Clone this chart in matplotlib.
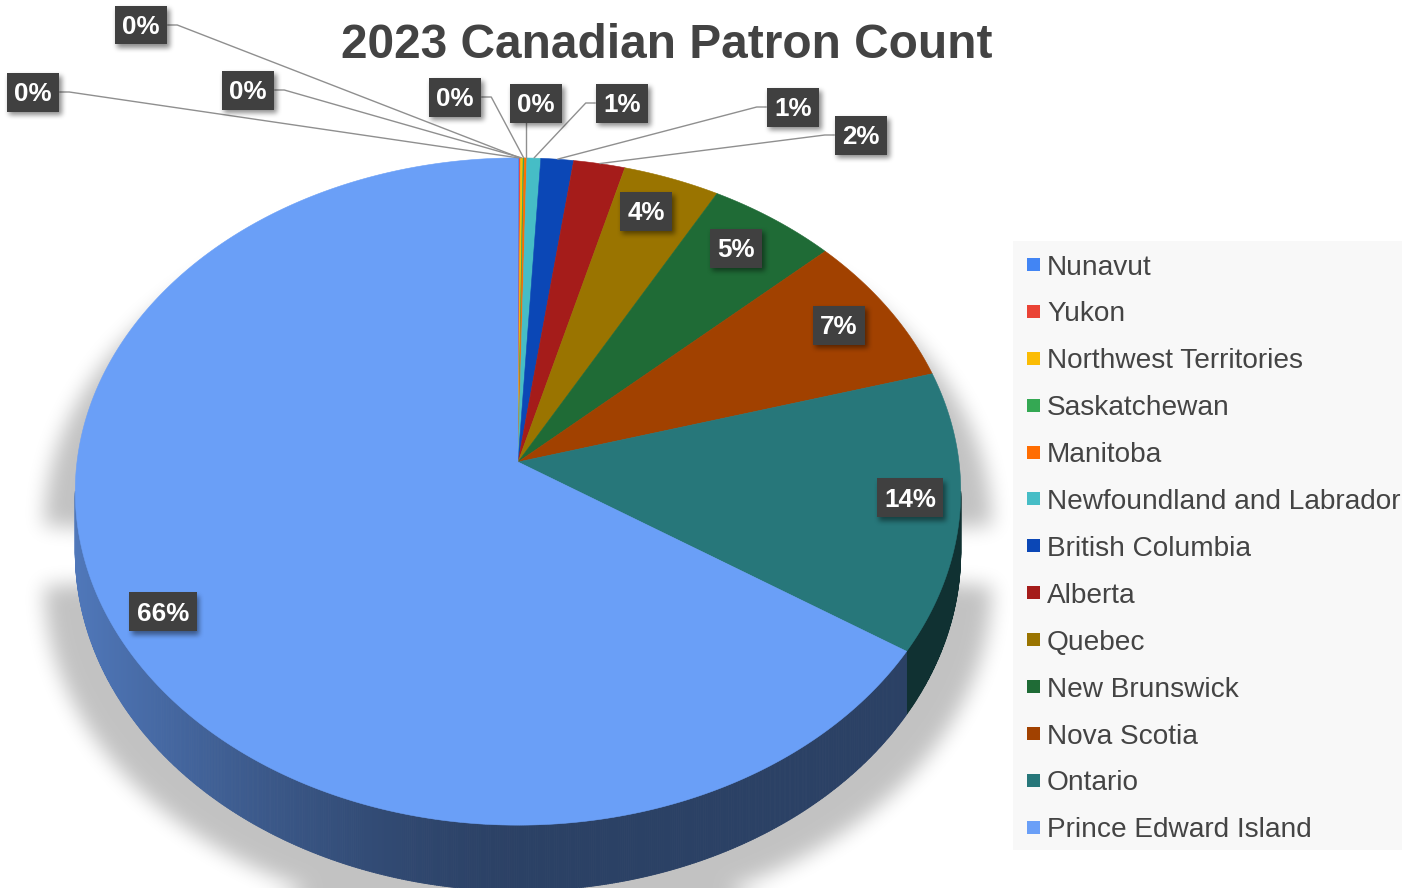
import numpy as np
import matplotlib
matplotlib.use("Agg")
import matplotlib.pyplot as plt
from matplotlib.path import Path
from matplotlib.patches import Polygon, Rectangle
from matplotlib.collections import PolyCollection
from matplotlib.colors import to_rgb

# ---------------- data ----------------
title = "2023 Canadian Patron Count"
provinces = [
    "Nunavut", "Yukon", "Northwest Territories", "Saskatchewan", "Manitoba",
    "Newfoundland and Labrador", "British Columbia", "Alberta", "Quebec",
    "New Brunswick", "Nova Scotia", "Ontario", "Prince Edward Island",
]
patrons = [1, 1, 2, 1, 2, 11, 26, 41, 77, 103, 148, 272, 1320]
slice_colors = [
    "#4285f4", "#ea4335", "#fbbc04", "#34a853", "#ff6d01", "#46bdc6",
    "#0b47b6", "#a51c1a", "#9a7400", "#1f6b36", "#a14100", "#27777a",
    "#6a9ff7",
]

# ---------------- layout ----------------
W, H = 1413, 888
CX, CY = 518, 462          # pie apex (pixels)
SX, SY, K = 441, 331, 0.0885   # horizontal / vertical radius, perspective factor
DEPTH = 60                 # pie thickness
FONT = "Liberation Sans"

# label box centres and leader-line attachment side
label_pos = [(33, 92), (141, 25), (248, 90), (455, 97), (536, 103),
             (622, 103), (793, 107), (861, 135), (646, 211), (736, 248),
             (839, 325), (910, 498), (163, 612)]
label_attach = ["right", "right", "right", "right", "bottom",
                "left", "left", "left", None, None, None, None, None]

fig = plt.figure(figsize=(W / 100, H / 100), dpi=100)
ax = fig.add_axes([0, 0, 1, 1])
ax.set_xlim(0, W)
ax.set_ylim(H, 0)
ax.axis("off")


def project(theta_deg):
    th = np.radians(theta_deg)
    w = 1 + K * np.cos(th)
    x = CX + SX * np.sin(th) / w
    y = CY - SY * np.cos(th) / w
    return x, y, w


def blur1d(a, r, axis):
    a = np.moveaxis(a, axis, -1)
    pad = np.pad(a, [(0, 0), (r + 1, r)], mode="edge")
    c = np.cumsum(pad, axis=-1)
    out = (c[:, 2 * r + 1:] - c[:, :-(2 * r + 1)]) / (2 * r + 1)
    return np.moveaxis(out, -1, axis)


def blur(a, r):
    for _ in range(3):
        a = blur1d(a, r, 0)
        a = blur1d(a, r, 1)
    return a


values = np.array(patrons, dtype=float)
shares = values / values.sum()
bounds = np.concatenate([[0], np.cumsum(shares)]) * 360.0
pcts = [int(np.floor(p * 100 + 0.5)) for p in shares]

front_lo = np.degrees(np.arccos(-K))
front_hi = 360 - front_lo

# ---------------- cast shadow ----------------
yy, xx = np.mgrid[0:H, 0:W] + 0.5
pts = np.column_stack([xx.ravel(), yy.ravel()])
back = np.linspace(front_hi, front_lo + 360, 400) % 360
bx, by, _ = project(back)
fr = np.linspace(front_lo, front_hi, 400)
fx, fy, fw = project(fr)
sil_x = np.concatenate([bx, fx[::-1]])
sil_y = np.concatenate([by, (fy + DEPTH / fw)[::-1]])
sh_x = CX + (sil_x - CX) * 1.07
sh_y = sil_y + 34
mask = Path(np.column_stack([sh_x, sh_y])).contains_points(pts).reshape(H, W).astype(float)
mask = blur(mask, 9)
shadow = np.zeros((H, W, 4))
shadow[..., 3] = mask * 0.24
ax.imshow(shadow, extent=(0, W, H, 0), origin="upper", zorder=1, interpolation="bilinear")

# ---------------- side walls ----------------
quads, qcols = [], []
for i, c in enumerate(slice_colors):
    a, b = bounds[i], bounds[i + 1]
    lo, hi = max(a, front_lo), min(b, front_hi)
    if lo >= hi:
        continue
    n = max(2, int((hi - lo) / 0.25) + 2)
    th = np.linspace(lo, hi, n)
    x, y, w = project(th)
    yb = y + DEPTH / w
    base = np.array(to_rgb(c))
    for j in range(n - 1):
        quads.append([(x[j], y[j]), (x[j + 1], y[j + 1]), (x[j + 1], yb[j + 1]), (x[j], yb[j])])
        u = ((x[j] + x[j + 1]) / 2 - CX) / SX
        f = 0.41 + 0.34 * max(-u, 0) ** 1.5
        qcols.append(np.clip(base * f, 0, 1))
ax.add_collection(PolyCollection(quads, facecolors=qcols, edgecolors=qcols,
                                 linewidths=0.6, zorder=2))

# ---------------- top face ----------------
for i, c in enumerate(slice_colors):
    a, b = bounds[i], bounds[i + 1]
    n = max(2, int((b - a) / 0.5) + 2)
    x, y, _ = project(np.linspace(a, b, n))
    verts = [(CX, CY)] + list(zip(x, y))
    ax.add_patch(Polygon(verts, closed=True, facecolor=c, edgecolor=c,
                         linewidth=0.4, zorder=3))

# ---------------- data labels ----------------
fig.canvas.draw()
renderer = fig.canvas.get_renderer()
label_fs = 18.7
cap = 0.716 * label_fs * 100 / 72
boxes = []
for i, p in enumerate(pcts):
    cx, cy = label_pos[i]
    t = ax.text(cx, cy + cap / 2, f"{p}%", ha="center", va="baseline",
                fontsize=label_fs, fontweight="bold", color="white",
                family=FONT, zorder=8)
    bw = t.get_window_extent(renderer).width + 15
    boxes.append((cx - bw / 2, cy - 19.5, bw, 39))

lab_sh = np.zeros((H, W))
for (x0, y0, bw, bh) in boxes:
    ax.add_patch(Rectangle((x0, y0), bw, bh, facecolor="#404040",
                           edgecolor="none", zorder=7))
    r0, r1 = int(y0 + 4), int(y0 + bh + 4)
    c0, c1 = int(x0 + 3), int(x0 + bw + 3)
    lab_sh[max(r0, 0):min(r1, H), max(c0, 0):min(c1, W)] = 1.0
lab_sh = blur(lab_sh, 2)
lsh = np.zeros((H, W, 4))
lsh[..., 3] = lab_sh * 0.45
ax.imshow(lsh, extent=(0, W, H, 0), origin="upper", zorder=6, interpolation="bilinear")

# leader lines
for i, side in enumerate(label_attach):
    if side is None:
        continue
    mid = (bounds[i] + bounds[i + 1]) / 2
    rx, ry, _ = project(mid)
    x0, y0, bw, bh = boxes[i]
    cy = y0 + bh / 2
    if side == "right":
        xs = [x0 + bw, x0 + bw + 10, rx]
        ys = [cy, cy, ry]
    elif side == "left":
        xs = [x0, x0 - 10, rx]
        ys = [cy, cy, ry]
    else:
        xs = [rx, rx]
        ys = [ry, y0 + bh]
    ax.plot(xs, ys, color="#8f8f8f", lw=1.0, zorder=5, solid_capstyle="butt")

# ---------------- title ----------------
ax.text(667, 58, title, ha="center", va="baseline", fontsize=34.5,
        fontweight="bold", color="#434343", family=FONT, zorder=9)

# ---------------- legend ----------------
ax.add_patch(Rectangle((1013, 241), 389, 609, facecolor="#f8f8f8",
                       edgecolor="none", zorder=1))
leg_fs = 20.2
leg_cap = 0.716 * leg_fs * 100 / 72
for i, (name, c) in enumerate(zip(provinces, slice_colors)):
    yc = 264.5 + 46.9 * i
    ax.add_patch(Rectangle((1027, yc - 6.5), 13, 13, facecolor=c,
                           edgecolor="none", zorder=4))
    ax.text(1047, yc + leg_cap / 2, name, ha="left", va="baseline",
            fontsize=leg_fs, color="#444444", family=FONT, zorder=4)

fig.savefig("out.png", dpi=100, facecolor="white")
